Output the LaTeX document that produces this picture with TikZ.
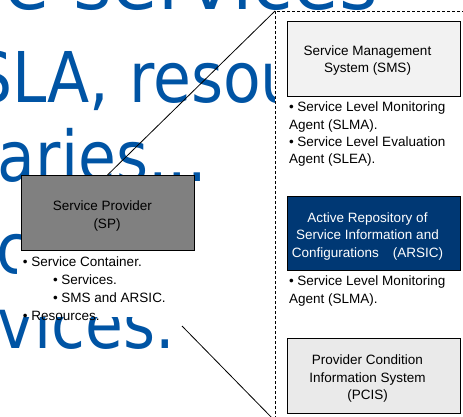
\documentclass[tikz,border=0pt]{standalone}
\usepackage{fontspec}
\setmainfont{Liberation Sans}
\newfontfamily\bgfont[FakeStretch=0.88]{DejaVu Sans}
\newfontfamily\bgwidefont{DejaVu Sans}
\definecolor{slideblue}{RGB}{0,84,164}
\definecolor{spgray}{RGB}{128,128,128}
\definecolor{smsgray}{RGB}{242,242,242}
\definecolor{pcisgray}{RGB}{234,234,234}
\definecolor{arsicblue}{RGB}{0,56,116}
\begin{document}
\begin{tikzpicture}[x=1pt,y=-1pt,
  every node/.style={inner sep=0pt,outer sep=0pt},
  bigtext/.style={anchor=base west,text=slideblue,font=\bgfont\fontsize{70}{70}\selectfont},
  box/.style={draw=black,line width=0.9pt,minimum width=173pt,minimum height=75pt},
  boxtext/.style={align=center,yshift=-3.5pt,font=\fontsize{13.5}{17.5}\selectfont},
  % anchored on the baseline of the last line
  notes/.style={anchor=base west,align=left,font=\fontsize{13.5}{17.5}\selectfont},
  panelframe/.style={draw=black,line width=0.9pt,dash pattern=on 3pt off 2pt,fill=white},
  link/.style={draw=black,line width=0.8pt}]
\useasboundingbox (0,0) rectangle (463,417);
\clip (0,0) rectangle (463,417);
\fill[white] (0,0) rectangle (463,417);

% slide text in the background
\node[bigtext,font=\bgwidefont\fontsize{74}{74}\selectfont] (l1) at (5,10) {e services};
\node[bigtext] (l2) at (-27,103) {SLA, resou};
\node[bigtext] (l3) at (-2,181) {aries...};
\node[bigtext] (l4) at (-3,273) {c};
\node[bigtext] (l5) at (-2,348) {vices.};

% white area laid over the slide text behind the SP notes
\fill[white] (17,251) rectangle (200,317);

% dashed frame holding the SP components
\node[panelframe,minimum width=205pt,minimum height=410pt] (panel) at (377.5,216) {};

% service provider
\node[box,fill=spgray,label={[boxtext,xshift=-0.5pt]center:{Service Provider\hspace*{9pt}\\(SP)}}] (sp) at (107.5,212.5) {};
\node[notes,font=\fontsize{13.5}{18}\selectfont] (spnotes) at (23,320) {• Service Container.\\\hspace*{30pt}• Services.\\\hspace*{30pt}• SMS and ARSIC.\\• Resources.};

% zoom lines from SP to the frame
\coordinate (lowstart) at (182,326);
\draw[link] (sp.north) -- (panel.north west);
\draw[link] (lowstart) -- (panel.south west);

% components
\node[box,fill=smsgray,label={[boxtext,xshift=-6pt,yshift=1.5pt]center:{Service Management\\System (SMS)}}] (sms) at (373.5,58.5) {};
\node[notes] (smsnotes) at (289,164) {• Service Level Monitoring\\Agent (SLMA).\\• Service Level Evaluation\\Agent (SLEA).};
\node[box,fill=arsicblue,minimum height=74pt,label={[boxtext,text=white,xshift=-6pt]center:{Active Repository of\\Service Information and\\Configurations\hspace{14pt}(ARSIC)}}] (arsic) at (373.5,233) {};
\node[notes] (arsicnotes) at (289,303) {• Service Level Monitoring\\Agent (SLMA).};
\node[box,fill=pcisgray,label={[boxtext,xshift=-6pt]center:{Provider Condition\\Information System\\(PCIS)}}] (pcis) at (373.5,375.5) {};
\end{tikzpicture}
\end{document}
